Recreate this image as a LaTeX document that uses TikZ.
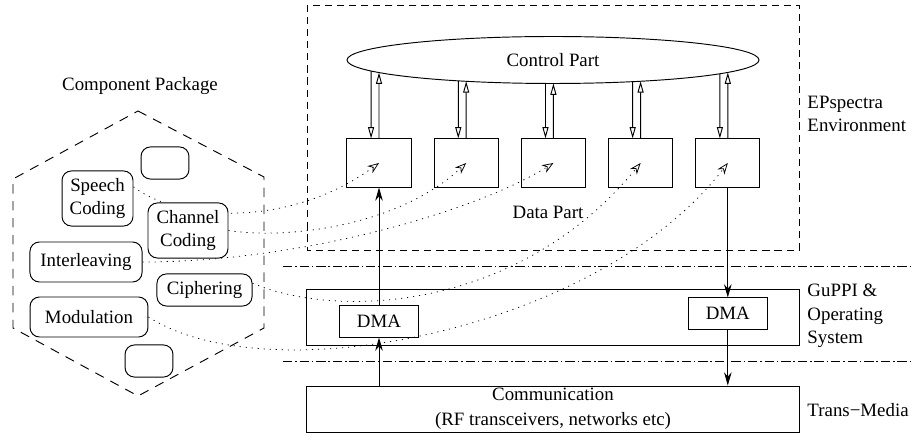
\documentclass[tikz,border=0pt]{standalone}
\usepackage{fontspec}
\setmainfont{Liberation Serif}
\usetikzlibrary{shapes.geometric,arrows.meta,intersections,backgrounds}

\begin{document}
\begin{tikzpicture}[x=0.53pt, y=-0.53pt, line width=0.5pt,
        font=\fontsize{10}{12.5}\selectfont,
        databox/.style={draw, minimum width=34pt, minimum height=25.5pt, inner sep=0pt},
        dmabox/.style={draw, minimum width=42pt, minimum height=16.5pt, inner sep=0pt},
        bigbox/.style={draw, minimum width=260.8pt, inner sep=0pt, align=center},
        comp/.style={draw, rounded corners=5pt, fill=white, align=center, inner sep=0pt},
        sidetext/.style={anchor=west, align=left, inner sep=0pt},
        openarr/.style={-{Triangle[open, length=6pt, width=3.2pt]}},
        solidarr/.style={-{Stealth[length=7pt, width=4pt]}},
        dotarr/.style={dash pattern=on 0.6pt off 2.6pt, -{Stealth[open, length=6pt, width=4.6pt]}},
        envframe/.style={dash pattern=on 3.8pt off 2.6pt},
        hexframe/.style={dash pattern=on 5pt off 4pt},
        layerline/.style={dash pattern=on 5pt off 1.5pt on 0.8pt off 1.5pt}]
    \useasboundingbox (0,0) rectangle (912,442);

    % EPspectra environment
    \draw[envframe] (307,5) rectangle (799,250);
    \node[sidetext] (envlbl) at (807,114) {EPspectra\\Environment};
    \node[ellipse, draw, minimum width=218.4pt, minimum height=24.9pt, inner sep=0pt,
        name path=ctrlp] (ctrl) at (553,60) {Control Part};
    \foreach \i/\x in {1/379, 2/466.2, 3/553.4, 4/640.6, 5/727.8}
        \node[databox] (b\i) at (\x,163) {};
    \node (datapart) at (548,212) {Data Part};

    \foreach \i in {1,...,5}{
        \path[name path=dn\i] ([xshift=-4.2pt]b\i.north) -- ++(0,-75);
        \path[name path=up\i] (b\i.north) -- ++(0,-75);
        \draw[openarr, name intersections={of=ctrlp and dn\i}] (intersection-1) -- ([xshift=-4.2pt]b\i.north);
        \draw[openarr, name intersections={of=ctrlp and up\i}] (b\i.north) -- (intersection-1);
    }

    % layers
    \draw[layerline] (283,266) -- (910,266);
    \draw[layerline] (283,361) -- (910,361);

    \node[bigbox, minimum height=29.2pt] (guppi) at (553,317.5) {};
    \node[dmabox] (dmaL) at (379,321.5) {DMA};
    \node[dmabox] (dmaR) at (727.8,313.5) {DMA};
    \node[sidetext] (oslbl) at (807,316) {GuPPI \&\\Operating\\System};

    \node[bigbox, minimum height=24.4pt, font=\fontsize{10}{13}\selectfont] (comm) at (553,409) {Communication\\(RF transceivers, networks etc)};
    \node[sidetext] (tmlbl) at (807,410) {Trans−Media};

    \draw[solidarr] (comm.north -| dmaL.south) -- (dmaL.south);
    \draw[solidarr] (dmaL.north) -- (b1.south);
    \draw[solidarr] (b5.south) -- (dmaR.north);
    \draw[solidarr] (dmaR.south) -- (dmaR.south |- comm.north);

    % component package
    \node (pkglbl) at (140,86) {Component Package};
    \draw[hexframe] (138,111) -- (264,177) -- (264,328) -- (138,396) -- (13,328) -- (13,179) -- cycle;
    \node[comp, minimum width=25.4pt, minimum height=17pt] (e1) at (165,163) {};
    \node[comp, minimum width=37.6pt, minimum height=29.2pt] (sp) at (97.5,198.5) {Speech\\Coding};
    \node[comp, minimum width=42.4pt, minimum height=29.2pt] (ch) at (188,230.5) {Channel\\Coding};
    \node[comp, minimum width=59.4pt, minimum height=21.2pt] (il) at (86,262) {Interleaving};
    \node[comp, minimum width=50.4pt, minimum height=17pt] (cp) at (204.5,290) {Ciphering};
    \node[comp, minimum width=62.5pt, minimum height=21.2pt] (md) at (89,317) {Modulation};
    \node[comp, minimum width=25.4pt, minimum height=17pt] (e2) at (149,361) {};

    \begin{scope}[on background layer]
        \draw[dotarr] (sp.18) .. controls (180,222) and (290,228) .. (b1.center);
        \draw[dotarr] (ch.east) .. controls (290,240) and (400,225) .. (b2.center);
        \draw[dotarr] (il.east) .. controls (300,262) and (475,212) .. (b3.center);
        \draw[dotarr] (cp.8) .. controls (340,320) and (520,310) .. (b4.center);
        \draw[dotarr] (md.east) .. controls (270,395) and (600,330) .. (b5.center);
    \end{scope}
\end{tikzpicture}
\end{document}
